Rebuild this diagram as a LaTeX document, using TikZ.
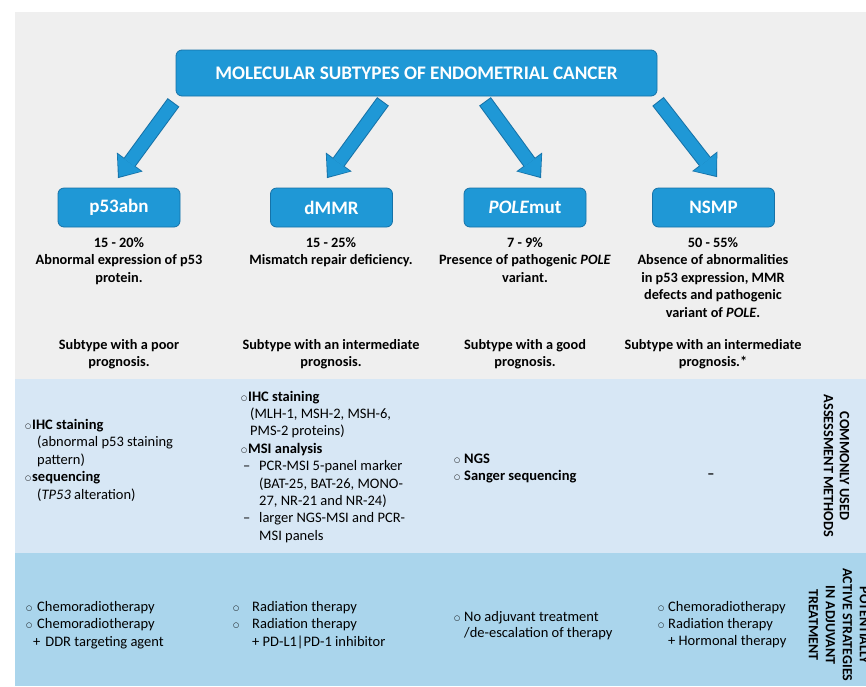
\documentclass[tikz,border=0pt]{standalone}
\usepackage{fontspec}
\setmainfont{Carlito}
\newfontfamily\symf{DejaVu Sans}
\usetikzlibrary{arrows.meta,calc}
\definecolor{bggray}{HTML}{EFEFEF}
\definecolor{bglblue}{HTML}{D7E7F5}
\definecolor{bgblue}{HTML}{AAD5EC}
\definecolor{boxblue}{HTML}{1F98D6}
\definecolor{boxedge}{HTML}{1672A8}
\newcommand{\bul}[1]{\makebox[#1][l]{\raisebox{0.6pt}{\symf\fontsize{7}{7}\selectfont ○}}}
\newcommand{\blockarrow}[2]{%
  \draw[line width=14.5pt, draw=boxedge, -{Triangle[width=32pt,length=20pt,line width=0pt]}] #1 -- #2;
  \draw[line width=12.5pt, draw=boxblue, shorten <=1pt, shorten >=1.6pt, -{Triangle[width=29pt,length=17.5pt,line width=0pt]}] #1 -- #2;}
\tikzset{
  mainbox/.style={draw=boxedge, line width=0.8pt, fill=boxblue, rounded corners=6pt, text=white,
    font=\bfseries\fontsize{19.2}{22}\selectfont, minimum width=481pt, minimum height=46pt, inner sep=0pt},
  subbox/.style={draw=boxedge, line width=0.8pt, fill=boxblue, rounded corners=6pt, text=white,
    font=\bfseries\fontsize{19}{22}\selectfont, minimum width=122pt, minimum height=39pt, inner sep=0pt},
  toptext/.style={align=center, anchor=base, inner sep=0pt, font=\bfseries\fontsize{14.3}{17.5}\selectfont},
  listtext/.style={align=left, anchor=base west, inner sep=0pt, font=\fontsize{14.5}{17.4}\selectfont},
  sidelabel/.style={rotate=-90, align=center, inner sep=0pt, font=\bfseries\fontsize{14.3}{16}\selectfont},
}
\begin{document}
\begin{tikzpicture}[x=1pt,y=-1pt]
\useasboundingbox (0,0) rectangle (866,686);
\clip (0,0) rectangle (866,686);
\fill[bggray] (15,12) rectangle (866,379);
\fill[bglblue] (15,379) rectangle (866,553);
\fill[bgblue] (15,553) rectangle (866,686);

\node[mainbox] (title) at (416.5,73) {MOLECULAR SUBTYPES OF ENDOMETRIAL CANCER};
\node[subbox] (p53) at (119,207.5) {p53abn};
\node[subbox] (dmmr) at (331.5,207.5) {dMMR};
\node[subbox] (pole) at (525,207.5) {\textit{POLE}mut};
\node[subbox] (nsmp) at (713.5,207.5) {NSMP};

\blockarrow{($(title.south)+(-243,6)$)}{($(p53.north)+(-1,-9.5)$)}
\blockarrow{($(title.south)+(-33.5,5)$)}{($(dmmr.north)+(-4.5,-9.5)$)}
\blockarrow{($(title.south)+(68.5,5)$)}{($(pole.north)+(16,-9.5)$)}
\blockarrow{($(title.south)+(241.5,5)$)}{($(nsmp.north)+(3.5,-10.5)$)}

% multi-line nodes: base anchor = baseline of the last line
\node[toptext] (p53desc) at (119,282) {15 - 20\%\\Abnormal expression of p53\\protein.};
\node[toptext] (dmmrdesc) at (331,264.5) {15 - 25\%\\Mismatch repair deficiency.};
\node[toptext] (poledesc) at (525,282) {7 - 9\%\\Presence of pathogenic \textit{POLE}\\variant.};
\node[toptext] (nsmpdesc) at (713,317) {50 - 55\%\\Absence of abnormalities\\in p53 expression, MMR\\defects and pathogenic\\variant of \textit{POLE}.};

\node[toptext] (p53prog) at (119,366.5) {Subtype with a poor\\prognosis.};
\node[toptext] (dmmrprog) at (331,366.5) {Subtype with an intermediate\\prognosis.};
\node[toptext] (poleprog) at (525,366.5) {Subtype with a good\\prognosis.};
\node[toptext] (nsmpprog) at (713,366.5) {Subtype with an intermediate\\prognosis.*};

\node[listtext, font=\fontsize{14.5}{17.5}\selectfont] (p53meth) at (25,499) {\bul{7pt}\textbf{IHC staining}\\\hspace*{12pt}(abnormal p53 staining\\\hspace*{12pt}pattern)\\\bul{7pt}\textbf{sequencing}\\\hspace*{12pt}(\textit{TP53} alteration)};
\node[listtext] (dmmrmeth) at (241,540.2) {\bul{7pt}\textbf{IHC staining}\\\hspace*{9pt}(MLH-1, MSH-2, MSH-6,\\\hspace*{9pt}PMS-2 proteins)\\\bul{7pt}\textbf{MSI analysis}\\\makebox[18pt][l]{\hspace*{2pt}–}PCR-MSI 5-panel marker\\\hspace*{18pt}(BAT-25, BAT-26, MONO-\\\hspace*{18pt}27, NR-21 and NR-24)\\\makebox[18pt][l]{\hspace*{2pt}–}larger NGS-MSI and PCR-\\\hspace*{18pt}MSI panels};
\node[listtext, font=\fontsize{14.5}{17}\selectfont] (polemeth) at (454,480) {\bul{10pt}\textbf{NGS}\\\bul{10pt}\textbf{Sanger sequencing}};
\node[toptext] (nsmpmeth) at (711,478) {–};

\node[sidelabel] (lab1) at (836.5,466) {COMMONLY USED\\ASSESSMENT METHODS};
\node[sidelabel, font=\bfseries\fontsize{14}{17}\selectfont] (lab2) at (839,625) {POTENTIALLY\\ACTIVE STRATEGIES\\IN ADJUVANT\\TREATMENT};

\node[listtext, font=\fontsize{14.5}{17.5}\selectfont] (p53tx) at (26,646) {\bul{11pt}Chemoradiotherapy\\\bul{11pt}Chemoradiotherapy\\\hspace*{7pt}+\hspace*{5pt}DDR targeting agent};
\node[listtext, font=\fontsize{14.5}{17.5}\selectfont] (dmmrtx) at (233,646) {\bul{19pt}Radiation therapy\\\bul{19pt}Radiation therapy\\\hspace*{19pt}+ PD-L1|PD-1 inhibitor};
\node[listtext, font=\fontsize{14.5}{16.5}\selectfont] (poletx) at (454,637.5) {\bul{10pt}No adjuvant treatment\\\hspace*{10pt}/de-escalation of therapy};
\node[listtext, font=\fontsize{14.5}{17}\selectfont] (nsmptx) at (658,645) {\bul{10pt}Chemoradiotherapy\\\bul{10pt}Radiation therapy\\\hspace*{10pt}+ Hormonal therapy};
\end{tikzpicture}
\end{document}
